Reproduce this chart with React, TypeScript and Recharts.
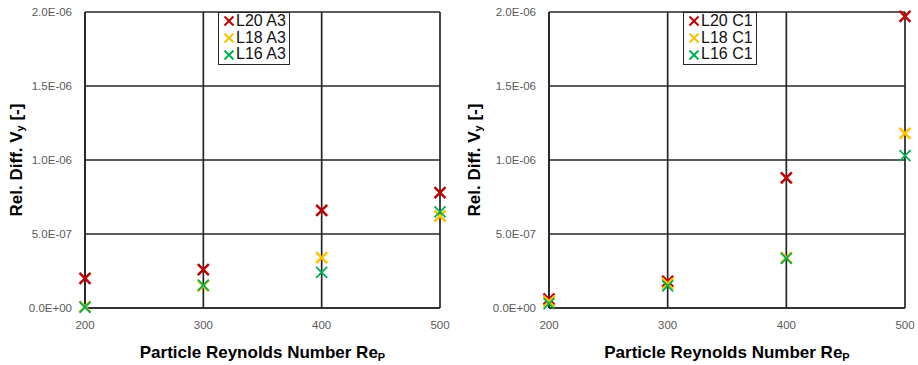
import React from 'react';
import {
  ScatterChart,
  Scatter,
  XAxis,
  YAxis,
  CartesianGrid,
} from 'recharts';

// Re_p values on the x axis
const reynolds = [200, 300, 400, 500];
const xTicks = [200, 300, 400, 500];
const yTicks = [0, 5e-7, 1e-6, 1.5e-6, 2e-6];

// left panel (A3)
const l20A3 = [2.0e-7, 2.6e-7, 6.6e-7, 7.8e-7];
const l18A3 = [1.0e-8, 1.5e-7, 3.4e-7, 6.2e-7];
const l16A3 = [5e-9, 1.55e-7, 2.4e-7, 6.5e-7];

// right panel (C1)
const l20C1 = [6e-8, 1.8e-7, 8.8e-7, 1.97e-6];
const l18C1 = [4.5e-8, 1.65e-7, 3.4e-7, 1.18e-6];
const l16C1 = [3e-8, 1.5e-7, 3.35e-7, 1.03e-6];

const RED = '#C00000';
const ORANGE = '#FFC000';
const GREEN = '#00B050';

const toPoints = (ys: number[]) => reynolds.map((x, i) => ({ x, y: ys[i] }));

const fmtExp = (v: number) => {
  const [m, e] = v.toExponential(1).split('e');
  const n = parseInt(e, 10);
  const sign = n < 0 ? '-' : '+';
  return `${m}E${sign}${String(Math.abs(n)).padStart(2, '0')}`;
};

const cross = (color: string, w: number) => (props: any) => {
  const { cx, cy } = props;
  const r = 5.5;
  return (
    <g>
      <line x1={cx - r} y1={cy - r} x2={cx + r} y2={cy + r} stroke={color} strokeWidth={w} />
      <line x1={cx - r} y1={cy + r} x2={cx + r} y2={cy - r} stroke={color} strokeWidth={w} />
    </g>
  );
};

type Series = { name: string; values: number[]; color: string; width: number };

const tickStyle = { fontFamily: 'Liberation Sans', fontSize: 11.5, fill: '#595959' };
const titleFont = 'Liberation Sans, Arial, sans-serif';
const GRID = '#262626';

const YTitle = (props: any) => {
  const { viewBox } = props;
  const cy = viewBox.y + viewBox.height / 2;
  const cx = 16;
  return (
    <text
      transform={`translate(${cx},${cy}) rotate(-90)`}
      textAnchor="middle"
      dominantBaseline="central"
      fontFamily={titleFont}
      fontWeight="bold"
      fontSize={17}
      fill="#000"
    >
      Rel. Diff. V<tspan fontSize={11} dy={4}>y</tspan>
      <tspan dy={-4}> [-]</tspan>
    </text>
  );
};

const XTitle = (props: any) => {
  const { viewBox } = props;
  const cx = viewBox.x + viewBox.width / 2;
  return (
    <text
      x={cx}
      y={358}
      textAnchor="middle"
      fontFamily={titleFont}
      fontWeight="bold"
      fontSize={17}
      fill="#000"
    >
      Particle Reynolds Number Re<tspan fontSize={11} dy={3}>P</tspan>
    </text>
  );
};

const LegendBox = ({ series, left }: { series: Series[]; left: number }) => (
  <div
    style={{
      position: 'absolute',
      left,
      top: 12,
      background: '#fff',
      border: `1.5px solid ${GRID}`,
      padding: '0px 3px 1px 4px',
      fontFamily: titleFont,
      fontSize: 16,
      lineHeight: '16.7px',
      color: '#111',
    }}
  >
    {series.map((s) => (
      <div key={s.name} style={{ display: 'flex', alignItems: 'center', whiteSpace: 'nowrap' }}>
        <svg width={12} height={12} style={{ marginRight: 1 }}>
          <line x1={1.5} y1={1.5} x2={10.5} y2={10.5} stroke={s.color} strokeWidth={2} />
          <line x1={1.5} y1={10.5} x2={10.5} y2={1.5} stroke={s.color} strokeWidth={2} />
        </svg>
        {s.name}
      </div>
    ))}
  </div>
);

const Panel = ({
  series,
  width,
  yAxisWidth,
  rightMargin,
  legendLeft,
}: {
  series: Series[];
  width: number;
  yAxisWidth: number;
  rightMargin: number;
  legendLeft: number;
}) => (
  <div style={{ position: 'relative', width, height: 365 }}>
    <ScatterChart
      width={width}
      height={365}
      margin={{ top: 12, right: rightMargin, left: 0, bottom: 0 }}
    >
      <CartesianGrid stroke={GRID} strokeWidth={1.7} />
      <XAxis
        type="number"
        dataKey="x"
        domain={[200, 500]}
        ticks={xTicks}
        height={57}
        tickLine={false}
        axisLine={{ stroke: GRID, strokeWidth: 1.7 }}
        tickMargin={7}
        tick={tickStyle}
        interval={0}
        label={{ content: XTitle }}
      />
      <YAxis
        type="number"
        dataKey="y"
        domain={[0, 2e-6]}
        ticks={yTicks}
        width={yAxisWidth}
        tickLine={false}
        axisLine={{ stroke: GRID, strokeWidth: 1.7 }}
        tickMargin={7}
        tick={tickStyle}
        tickFormatter={fmtExp}
        interval={0}
        label={{ content: YTitle }}
      />
      {series.map((s) => (
        <Scatter
          key={s.name}
          name={s.name}
          data={toPoints(s.values)}
          fill={s.color}
          shape={cross(s.color, s.width)}
          isAnimationActive={false}
        />
      ))}
    </ScatterChart>
    <LegendBox series={series} left={legendLeft} />
  </div>
);

const seriesA3: Series[] = [
  { name: 'L20 A3', values: l20A3, color: RED, width: 2.5 },
  { name: 'L18 A3', values: l18A3, color: ORANGE, width: 2.5 },
  { name: 'L16 A3', values: l16A3, color: GREEN, width: 1.8 },
];

const seriesC1: Series[] = [
  { name: 'L20 C1', values: l20C1, color: RED, width: 2.5 },
  { name: 'L18 C1', values: l18C1, color: ORANGE, width: 2.5 },
  { name: 'L16 C1', values: l16C1, color: GREEN, width: 1.8 },
];

export default function App() {
  return (
    <div
      style={{
        position: 'fixed',
        left: 0,
        top: 0,
        width: 918,
        height: 365,
        background: '#fff',
        display: 'flex',
      }}
    >
      <Panel series={seriesA3} width={458} yAxisWidth={85} rightMargin={18} legendLeft={218} />
      <Panel series={seriesC1} width={460} yAxisWidth={91} rightMargin={13} legendLeft={225} />
    </div>
  );
}
